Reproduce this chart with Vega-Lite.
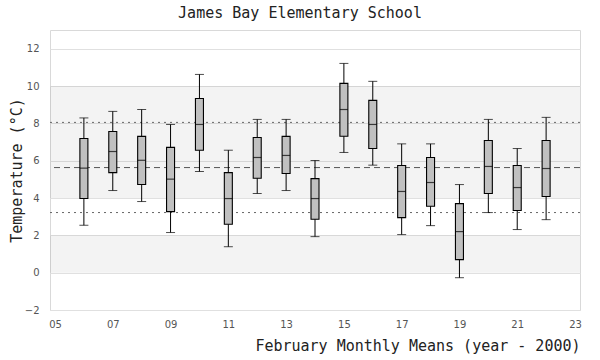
{
  "$schema": "https://vega.github.io/schema/vega-lite/v6.json",
  "width": 530,
  "height": 280,
  "autosize": {"type": "none"},
  "padding": {"left": 50, "top": 30, "right": 20, "bottom": 50},
  "background": "white",
  "title": {
    "text": "James Bay Elementary School",
    "font": "DejaVu Sans Mono",
    "fontSize": 15,
    "fontWeight": "normal",
    "color": "#222222",
    "anchor": "middle",
    "dx": -15,
    "offset": 9
  },
  "datasets": {
    "boxes": [
      {"year": 6, "low": 2.54, "q1": 3.97, "median": 5.60, "q3": 7.19, "high": 8.29},
      {"year": 7, "low": 4.40, "q1": 5.36, "median": 6.49, "q3": 7.56, "high": 8.64},
      {"year": 8, "low": 3.81, "q1": 4.72, "median": 6.02, "q3": 7.30, "high": 8.74},
      {"year": 9, "low": 2.15, "q1": 3.27, "median": 5.01, "q3": 6.71, "high": 7.94},
      {"year": 10, "low": 5.42, "q1": 6.56, "median": 7.94, "q3": 9.33, "high": 10.62},
      {"year": 11, "low": 1.39, "q1": 2.59, "median": 3.97, "q3": 5.36, "high": 6.56},
      {"year": 12, "low": 4.24, "q1": 5.06, "median": 6.17, "q3": 7.24, "high": 8.21},
      {"year": 13, "low": 4.40, "q1": 5.31, "median": 6.28, "q3": 7.30, "high": 8.21},
      {"year": 14, "low": 1.93, "q1": 2.86, "median": 3.97, "q3": 5.04, "high": 6.01},
      {"year": 15, "low": 6.44, "q1": 7.31, "median": 8.74, "q3": 10.14, "high": 11.21},
      {"year": 16, "low": 5.76, "q1": 6.65, "median": 7.94, "q3": 9.23, "high": 10.25},
      {"year": 17, "low": 2.04, "q1": 2.95, "median": 4.35, "q3": 5.74, "high": 6.90},
      {"year": 18, "low": 2.52, "q1": 3.56, "median": 4.83, "q3": 6.17, "high": 6.90},
      {"year": 19, "low": -0.27, "q1": 0.70, "median": 2.20, "q3": 3.70, "high": 4.72},
      {"year": 20, "low": 3.22, "q1": 4.24, "median": 5.69, "q3": 7.08, "high": 8.21},
      {"year": 21, "low": 2.31, "q1": 3.33, "median": 4.56, "q3": 5.74, "high": 6.65},
      {"year": 22, "low": 2.84, "q1": 4.08, "median": 5.58, "q3": 7.08, "high": 8.32}
    ],
    "bands": [
      {"lo": 4, "hi": 10},
      {"lo": 0, "hi": 2}
    ],
    "meanline": [{"v": 5.63}],
    "limits": [{"v": 8.05}, {"v": 3.22}]
  },
  "layer": [
    {
      "data": {"name": "bands"},
      "mark": {"type": "rect", "fill": "#000000", "fillOpacity": 0.047},
      "encoding": {
        "y": {
          "field": "lo",
          "type": "quantitative",
          "scale": {"domain": [-2, 13], "nice": false, "zero": false},
          "axis": {
            "values": [-2, 0, 2, 4, 6, 8, 10, 12],
            "title": "Temperature (°C)",
            "grid": true,
            "gridColor": "#e0e0e0",
            "domain": false,
            "ticks": false,
            "tickSize": 0,
            "labelPadding": 11,
            "labelOverlap": false,
            "labelFont": "DejaVu Sans",
            "labelFontSize": 10,
            "labelColor": "#555555",
            "titleFont": "DejaVu Sans Mono",
            "titleFontSize": 15,
            "titleFontWeight": "normal",
            "titleColor": "#222222",
            "titlePadding": 0
          }
        },
        "y2": {"field": "hi"}
      }
    },
    {
      "data": {"name": "meanline"},
      "mark": {"type": "rule", "color": "#555555", "strokeDash": [6, 4], "strokeWidth": 1},
      "encoding": {"y": {"field": "v", "type": "quantitative"}}
    },
    {
      "data": {"name": "limits"},
      "mark": {"type": "rule", "color": "#666666", "strokeDash": [2, 4], "strokeWidth": 1},
      "encoding": {"y": {"field": "v", "type": "quantitative"}}
    },
    {
      "data": {"name": "boxes"},
      "mark": {"type": "rule", "color": "#000000", "strokeWidth": 1},
      "encoding": {
        "x": {
          "field": "year",
          "type": "quantitative",
          "scale": {"domain": [5, 23], "nice": false, "zero": false},
          "axis": {
            "values": [5, 7, 9, 11, 13, 15, 17, 19, 21, 23],
            "format": "02d",
            "title": "February Monthly Means (year - 2000)",
            "titleAnchor": "end",
            "grid": false,
            "domain": false,
            "ticks": false,
            "tickSize": 0,
            "labelPadding": 9,
            "labelOverlap": false,
            "labelFont": "DejaVu Sans",
            "labelFontSize": 10,
            "labelColor": "#555555",
            "titleFont": "DejaVu Sans Mono",
            "titleFontSize": 15,
            "titleFontWeight": "normal",
            "titleColor": "#222222",
            "titlePadding": 9
          }
        },
        "y": {"field": "low", "type": "quantitative"},
        "y2": {"field": "high"}
      }
    },
    {
      "data": {"name": "boxes"},
      "mark": {"type": "tick", "orient": "horizontal", "color": "#000000", "size": 9, "thickness": 1},
      "encoding": {
        "x": {"field": "year", "type": "quantitative"},
        "y": {"field": "low", "type": "quantitative"}
      }
    },
    {
      "data": {"name": "boxes"},
      "mark": {"type": "tick", "orient": "horizontal", "color": "#000000", "size": 9, "thickness": 1},
      "encoding": {
        "x": {"field": "year", "type": "quantitative"},
        "y": {"field": "high", "type": "quantitative"}
      }
    },
    {
      "data": {"name": "boxes"},
      "mark": {"type": "bar", "fill": "#c0c0c0", "stroke": "#000000", "strokeWidth": 1.1, "size": 8},
      "encoding": {
        "x": {"field": "year", "type": "quantitative"},
        "y": {"field": "q1", "type": "quantitative"},
        "y2": {"field": "q3"}
      }
    },
    {
      "data": {"name": "boxes"},
      "mark": {"type": "tick", "orient": "horizontal", "color": "#000000", "size": 8, "thickness": 1.2},
      "encoding": {
        "x": {"field": "year", "type": "quantitative"},
        "y": {"field": "median", "type": "quantitative"}
      }
    }
  ],
  "config": {
    "view": {"stroke": "#d9d9d9", "strokeWidth": 1},
    "axis": {"labelOverlap": false},
    "axisY": {"labelOverlap": false, "tickCount": 8}
  }
}
